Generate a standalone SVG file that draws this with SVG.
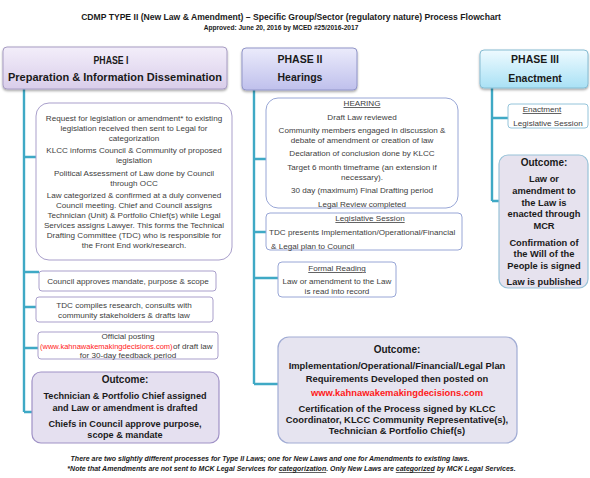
<svg xmlns="http://www.w3.org/2000/svg" width="590" height="478" viewBox="0 0 590 478">
<defs>
<linearGradient id="g1" x1="0" y1="0" x2="0" y2="1"><stop offset="0" stop-color="#f3eefa"/><stop offset="1" stop-color="#d9cdea"/></linearGradient>
<linearGradient id="g2" x1="0" y1="0" x2="0" y2="1"><stop offset="0" stop-color="#ebebfb"/><stop offset="1" stop-color="#bfc0ec"/></linearGradient>
<linearGradient id="g3" x1="0" y1="0" x2="0" y2="1"><stop offset="0" stop-color="#eefaff"/><stop offset="1" stop-color="#a9e1f5"/></linearGradient>
<filter id="sh" x="-10%" y="-10%" width="120%" height="130%"><feDropShadow dx="0" dy="1.5" stdDeviation="1.2" flood-color="#000" flood-opacity="0.35"/></filter>
</defs>
<style>
text{font-family:"Liberation Sans",Arial,sans-serif;fill:#404040;text-anchor:middle}
.t{font-size:8.6px;font-weight:bold;fill:#1a1a1a}
.st{font-size:6.6px;font-weight:bold;fill:#1a1a1a}
.h{font-size:10.5px;font-weight:bold;fill:#1a1a1a}
.h1{font-size:10.6px;font-weight:bold;fill:#1a1a1a}
.b{font-size:8.1px}
.l{text-anchor:start}
.oc{font-size:10px;font-weight:bold;fill:#1a1a1a}
.o{font-size:9.1px;font-weight:bold;fill:#1a1a1a}
.o2{font-size:9.4px;font-weight:bold;fill:#1a1a1a}
.o3{font-size:9.3px;font-weight:bold;fill:#1a1a1a}
.u{text-decoration:underline}
.red{fill:#ff1a1a}
.f{font-size:7px;font-weight:bold;font-style:italic;fill:#1a1a1a}
.box{fill:#fff;stroke-width:1}
.p1{stroke:#a99fcb}
.p2{stroke:#98a6d6}
.p3{stroke:#94c4da}
.conn{stroke:#3fa9c5;stroke-width:2.4;fill:none}
</style>

<g id="title">
<text class="t" x="291" y="20">CDMP TYPE II (New Law &amp; Amendment) – Specific Group/Sector (regulatory nature) Process Flowchart</text>
<text class="st" x="281" y="30">Approved: June 20, 2016 by MCED #25/2016-2017</text>
</g>

<g id="connectors">
<path class="conn" d="M24 89 V412 M24 157 H38 M24 272 H39 M24 307 H37 M24 348 H38 M24 412 H33"/>
<path class="conn" d="M254 90 V384 M254 159 H266 M254 232 H266 M254 278 H278 M254 384 H278"/>
<path class="conn" d="M492 88 V201 M492 118 H508 M492 201 H499"/>
</g>

<g id="phase1">
<rect x="3" y="47" width="224" height="42" rx="4" fill="url(#g1)" stroke="#a79cc3" filter="url(#sh)"/>
<text class="h1" x="111" y="64" textLength="35" lengthAdjust="spacingAndGlyphs">PHASE I</text>
<text class="h1" x="115" y="81" textLength="214" lengthAdjust="spacingAndGlyphs">Preparation &amp;  Information Dissemination</text>
</g>

<g id="p1box1">
<rect class="box p1" x="36" y="103" width="196" height="157" rx="13"/>
<text class="b" x="134" y="120.5">Request for legislation or amendment* to existing</text>
<text class="b" x="134" y="130.5">legislation received then sent to Legal for</text>
<text class="b" x="134" y="140.5">categorization</text>
<text class="b" x="134" y="152.5">KLCC informs Council &amp; Community of proposed</text>
<text class="b" x="134" y="162.5">legislation</text>
<text class="b" x="134" y="175.5">Political Assessment  of Law done by Council</text>
<text class="b" x="134" y="185.5">through OCC</text>
<text class="b" x="134" y="197.5">Law categorized &amp; confirmed at a duly convened</text>
<text class="b" x="134" y="207.5">Council meeting. Chief and Council assigns</text>
<text class="b" x="134" y="217.5">Technician (Unit) &amp; Portfolio Chief(s) while Legal</text>
<text class="b" x="134" y="227.5">Services assigns Lawyer. This forms the Technical</text>
<text class="b" x="134" y="237.5">Drafting Committee (TDC) who is responsible for</text>
<text class="b" x="134" y="247.5">the  Front End work/research.</text>
</g>

<g id="p1box2">
<rect class="box p1" x="39" y="271" width="177" height="20" rx="3"/>
<text class="b" x="128" y="284">Council approves mandate, purpose &amp; scope</text>
</g>

<g id="p1box3">
<rect class="box p1" x="36" y="297" width="177" height="25" rx="3"/>
<text class="b" x="124" y="308">TDC compiles research, consults with</text>
<text class="b" x="124" y="318">community stakeholders &amp; drafts law</text>
</g>

<g id="p1box4">
<rect class="box p1" x="38" y="332" width="180" height="27" rx="3"/>
<text class="b" x="128" y="339">Official posting</text>
<text class="l red" x="40" y="349" style="font-size:7.5px">(www.kahnawakemakingdecisions.com)</text>
<text class="b l" x="173" y="349">of draft law</text>
<text class="b" x="128" y="358">for 30-day feedback period</text>
</g>

<g id="p1outcome">
<rect x="32" y="372" width="187" height="71" rx="9" fill="#e5e0f0" stroke="#9f91c6" stroke-width="1.2"/>
<text class="oc" x="125" y="383">Outcome:</text>
<text class="o" x="125" y="398.5">Technician &amp; Portfolio Chief assigned</text>
<text class="o" x="125" y="410.5">and  Law or amendment is drafted</text>
<text class="o" x="125" y="426.5">Chiefs in Council approve purpose,</text>
<text class="o" x="125" y="437.5">scope &amp; mandate</text>
</g>

<g id="phase2">
<rect x="242" y="48" width="115" height="42" rx="4" fill="url(#g2)" stroke="#9195c8" filter="url(#sh)"/>
<text class="h" x="300" y="63">PHASE II</text>
<text class="h" x="300" y="81">Hearings</text>
</g>

<g id="hearing">
<rect class="box p2" x="266" y="98" width="192" height="110" rx="12"/>
<text class="b u" x="362" y="106">HEARING</text>
<text class="b" x="362" y="120">Draft Law reviewed</text>
<text class="b" x="362" y="133">Community members engaged in discussion &amp;</text>
<text class="b" x="362" y="142.5">debate of amendment or creation of law</text>
<text class="b" x="362" y="156">Declaration of conclusion done by KLCC</text>
<text class="b" x="362" y="170">Target 6 month timeframe (an extension if</text>
<text class="b" x="362" y="180">necessary).</text>
<text class="b" x="362" y="193">30 day (maximum)  Final Drafting period</text>
<text class="b" x="362" y="207">Legal Review completed</text>
</g>

<g id="legsession">
<rect class="box p2" x="266" y="213" width="196" height="37" rx="4"/>
<text class="b u" x="370" y="221">Legislative Session</text>
<text class="b l" x="269" y="235">TDC presents Implementation/Operational/Financial</text>
<text class="b l" x="271" y="248.5">&amp; Legal plan to Council</text>
</g>

<g id="formalreading">
<rect class="box p2" x="278" y="262" width="118" height="35" rx="4"/>
<text class="b u" x="337" y="271">Formal Reading</text>
<text class="b" x="337" y="284">Law or amendment to the Law</text>
<text class="b" x="337" y="294">is read into record</text>
</g>

<g id="p2outcome">
<rect x="278" y="337" width="239" height="106" rx="11" fill="#e6e4f0" stroke="#a1acd4" stroke-width="1.2"/>
<text class="oc" x="397" y="352.5">Outcome:</text>
<text class="o2" x="397" y="368.5">Implementation/Operational/Financial/Legal Plan</text>
<text class="o2" x="397" y="381.5">Requirements Developed then posted on</text>
<text class="o2 red" x="397" y="395.5">www.kahnawakemakingdecisions.com</text>
<text class="o2" x="397" y="411.5">Certification of the Process signed  by KLCC</text>
<text class="o2" x="397" y="422.5">Coordinator, KLCC Community Representative(s),</text>
<text class="o2" x="397" y="433.5">Technician &amp; Portfolio Chief(s)</text>
</g>

<g id="phase3">
<rect x="480" y="50" width="108" height="38" rx="4" fill="url(#g3)" stroke="#86bcd2" filter="url(#sh)"/>
<text class="h" x="535" y="63">PHASE III</text>
<text class="h" x="535" y="82">Enactment</text>
</g>

<g id="enactment">
<rect class="box p3" x="508" y="104" width="80" height="24" rx="3"/>
<text class="b u" x="542" y="112">Enactment</text>
<text class="b" x="548" y="125.5">Legislative Session</text>
</g>

<g id="p3outcome">
<rect x="499" y="155" width="89" height="133" rx="9" fill="#e6e2ee" stroke="#98c2d8" stroke-width="1.2"/>
<text class="oc" x="544" y="165.5">Outcome:</text>
<text class="o3" x="544" y="181.5">Law or</text>
<text class="o3" x="544" y="193.5">amendment to</text>
<text class="o3" x="544" y="205.5">the Law is</text>
<text class="o3" x="544" y="216.5">enacted through</text>
<text class="o3" x="544" y="228.5">MCR</text>
<text class="o3" x="544" y="245.5">Confirmation of</text>
<text class="o3" x="544" y="256.5">the Will of the</text>
<text class="o3" x="544" y="268.5">People is signed</text>
<text class="o3" x="544" y="284.5">Law is published</text>
</g>

<g id="footnote">
<text class="f" x="270" y="461">There are two slightly different processes for Type II Laws; one for New Laws and one for Amendments to existing laws.</text>
<text class="f" x="291.5" y="471">*Note that Amendments are not sent to MCK Legal Services for <tspan class="u">categorization</tspan>. Only New Laws are <tspan class="u">categorized</tspan> by MCK Legal Services.</text>
</g>
</svg>
